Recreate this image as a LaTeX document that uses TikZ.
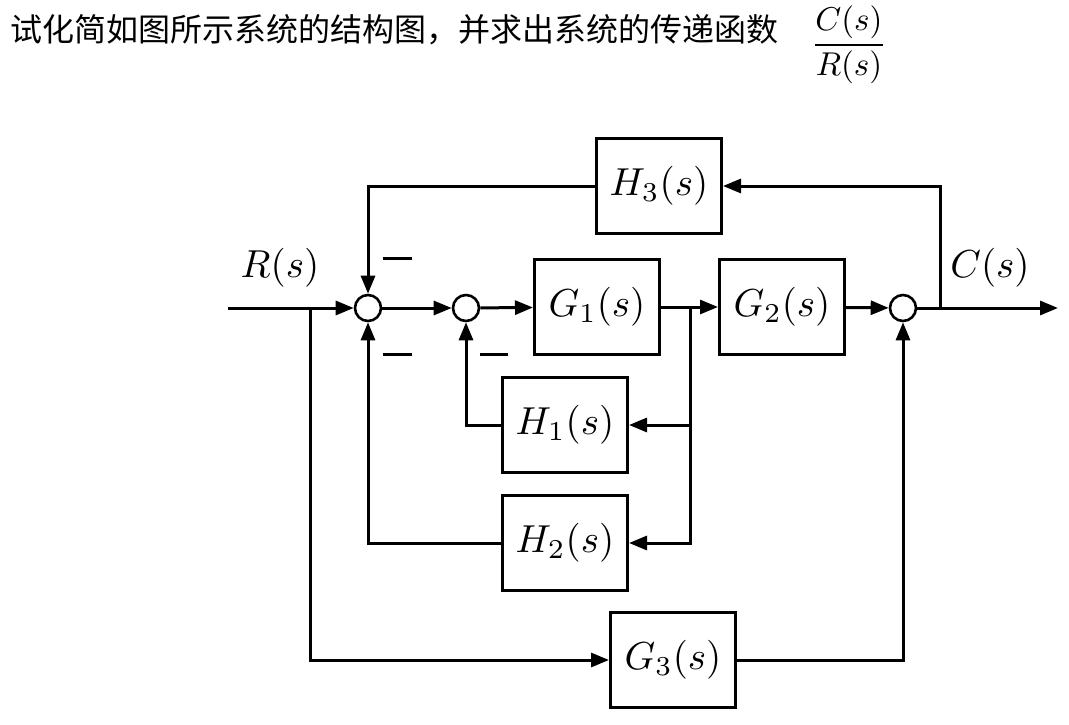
\documentclass[tikz,border=0pt]{standalone}
\usepackage{amsmath}
\usepackage{fontspec}
\newfontfamily\cjk{Noto Sans CJK SC}
\usetikzlibrary{arrows.meta}
\newcommand{\blkm}[1]{\scalebox{3.9}{$#1$}}
\begin{document}
\begin{tikzpicture}[x=1pt,y=-1pt,line width=3pt,
 blk/.style={draw,minimum width=125pt,minimum height=95pt,inner sep=0pt},
 sum/.style={draw,circle,minimum size=26pt,inner sep=0pt,line width=2.6pt},
 ar/.style={-{Triangle[length=18pt,width=14pt]}}]
\useasboundingbox (0,0) rectangle (1069,725);
\node[anchor=west,font=\cjk\fontsize{32}{32}\selectfont] (t) at (6,30) {试化简如图所示系统的结构图，并求出系统的传递函数};
\node[anchor=west,inner sep=0pt] (f) at (810,45) {\scalebox{3.3}{$\dfrac{C(s)}{R(s)}$}};
\node[blk] (H3) at (659,186) {\blkm{H_3(s)}};
\node[blk] (G1) at (597,307) {\blkm{G_1(s)}};
\node[blk] (G2) at (782,307) {\blkm{G_2(s)}};
\node[blk] (H1) at (565,425) {\blkm{H_1(s)}};
\node[blk] (H2) at (565,543) {\blkm{H_2(s)}};
\node[blk] (G3) at (673,660) {\blkm{G_3(s)}};
\node[sum] (S1) at (368,308) {};
\node[sum] (S2) at (466,308) {};
\node[sum] (S3) at (903,308) {};
\coordinate (in) at (228,308);
\coordinate (b1) at (310,308);
\coordinate (b2) at (690,307);
\coordinate (b3) at (940,308);
\coordinate (out) at (1058,308);
\node (R) at (280,268) {\blkm{R(s)}};
\node (C) at (990,268) {\blkm{C(s)}};
\draw[ar] (in) -- (S1);
\draw[ar] (b1) |- (G3);
\draw[ar] (G3) -| (S3);
\draw[ar] (S1) -- (S2);
\draw[ar] (S2) -- (G1);
\draw[ar] (G1) -- (G2);
\draw[ar] (G2) -- (S3);
\draw[ar] (S3) -- (out);
\draw[ar] (b3) |- (H3);
\draw[ar] (H3) -| (S1);
\draw[ar] (b2) |- (H1);
\draw[ar] (b2) |- (H2);
\draw[ar] (H1) -| (S2);
\draw[ar] (H2) -| (S1);
\draw (383,258) -- (412,258);
\draw (383,354) -- (412,354);
\draw (480,354) -- (508,354);
\end{tikzpicture}
\end{document}
